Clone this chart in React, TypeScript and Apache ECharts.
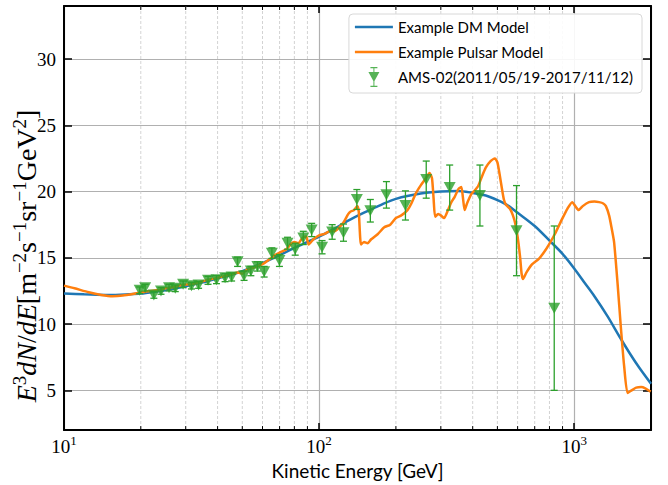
import React, { useEffect, useRef } from "react";
import * as echarts from "echarts";

// ---- Data ----
const dmEnergy = [10, 12, 15, 18, 20, 23, 26, 30, 35, 40, 45, 50, 60, 70, 80, 90, 100, 115, 130, 150, 175, 200, 250, 300, 350, 400, 450, 500, 550, 600, 700, 800, 900, 1000, 1100, 1200, 1350, 1500, 1650, 1800, 2000];
const dmValue = [12.3, 12.25, 12.2, 12.25, 12.3, 12.45, 12.6, 12.85, 13.15, 13.45, 13.7, 14.0, 14.6, 15.2, 15.75, 16.2, 16.6, 17.2, 17.8, 18.4, 19.0, 19.45, 19.85, 20.0, 20.05, 19.9, 19.7, 19.35, 18.95, 18.4, 17.4, 16.3, 15.3, 14.2, 13.1, 12.1, 10.6, 9.1, 7.8, 6.7, 5.5];

const pulsarEnergy = [10, 11, 12.5, 14, 15.5, 17, 19, 21, 23, 25, 27, 29, 31, 33, 36, 39, 42, 45, 48, 50, 52, 55, 58, 61, 64, 67, 70, 74, 78, 80, 83, 86, 89, 91, 95, 100, 105, 110, 115, 120, 125, 130, 133, 137, 141, 143, 146, 150, 155, 160, 170, 180, 190, 200, 210, 222, 230, 240, 251, 262, 271, 277, 281, 285, 293, 300, 309, 320, 330, 340, 352, 361, 366, 372, 380, 395, 408, 420, 432, 450, 470, 489, 500, 510, 520, 530, 540, 560, 575, 587, 600, 614, 622, 630, 650, 683, 725, 760, 796, 840, 895, 940, 982, 1010, 1040, 1080, 1143, 1200, 1252, 1300, 1331, 1370, 1400, 1433, 1480, 1523, 1570, 1618, 1680, 1750, 1830, 1900, 1994];
const pulsarValue = [12.9, 12.7, 12.4, 12.2, 12.1, 12.15, 12.3, 12.45, 12.55, 12.7, 12.8, 12.95, 13.0, 13.1, 13.3, 13.45, 13.6, 13.75, 13.9, 13.8, 14.1, 14.25, 14.4, 14.6, 14.9, 15.2, 15.4, 15.6, 16.1, 16.2, 16.1, 16.5, 16.6, 16.0, 16.4, 16.7, 16.8, 17.0, 17.0, 17.3, 17.7, 18.3, 18.5, 18.6, 18.9, 18.5, 16.0, 16.2, 16.1, 16.4, 16.8, 17.3, 17.5, 18.0, 18.2, 18.6, 19.1, 19.9, 20.5, 21.0, 21.4, 21.0, 19.5, 18.1, 18.3, 18.2, 18.0, 18.6, 19.2, 19.6, 20.2, 20.35, 19.6, 18.6, 19.1, 19.8, 20.1, 20.4, 21.0, 21.8, 22.3, 22.5, 22.2, 21.3, 20.3, 19.4, 19.0, 18.7, 18.2, 17.6, 16.6, 15.0, 13.8, 13.4, 13.9, 14.5, 14.9, 15.4, 16.0, 16.8, 17.9, 18.7, 19.2, 18.9, 18.6, 18.9, 19.2, 19.25, 19.2, 19.1, 18.9, 18.2, 17.3, 16.2, 13.0, 9.8, 6.8, 4.8, 5.0, 5.2, 5.25, 5.15, 4.9];

const amsEnergy = [19.8, 20.8, 22.5, 24.0, 25.8, 27.3, 29.3, 31.6, 33.7, 36.7, 39.6, 42.8, 45.4, 47.9, 50.8, 54.0, 57.3, 60.9, 65.3, 69.9, 75.2, 80.6, 86.7, 93.5, 102.7, 112.5, 124.6, 140.6, 158.8, 183.6, 218, 263, 325, 427, 594, 835];
const amsValue = [12.55, 12.75, 12.2, 12.5, 12.75, 12.7, 13.0, 12.9, 12.95, 13.3, 13.35, 13.5, 13.55, 14.7, 13.65, 14.0, 14.35, 13.95, 15.35, 14.8, 16.1, 15.65, 16.5, 17.1, 15.8, 16.95, 16.9, 19.4, 18.55, 19.75, 18.95, 20.9, 20.3, 19.7, 17.05, 11.2];
const amsError = [0.25, 0.25, 0.25, 0.25, 0.25, 0.25, 0.25, 0.25, 0.25, 0.3, 0.3, 0.3, 0.3, 0.35, 0.35, 0.35, 0.35, 0.4, 0.4, 0.45, 0.45, 0.45, 0.5, 0.5, 0.5, 0.55, 0.65, 0.75, 0.85, 1.0, 1.1, 1.4, 1.7, 2.3, 3.4, 6.2];

const minorTickValues = [20, 30, 40, 50, 60, 70, 80, 90, 200, 300, 400, 500, 600, 700, 800, 900];
const xMin = 10;
const xMax = 2000;
const yMin = 2;
const yMax = 34;

const DM_NAME = "Example DM Model";
const PULSAR_NAME = "Example Pulsar Model";
const AMS_NAME = "AMS-02(2011/05/19-2017/11/12)";

const BLUE = "#1f77b4";
const ORANGE = "#ff7f0e";
const GREEN = "#2ca02c";
const SERIF = "'Liberation Serif', 'DejaVu Serif', serif";
const SANS = "Lato, 'Noto Sans', sans-serif";

const lineIcon = "path://M0,0 M38,20 M0,8.75 L38,8.75 L38,11.25 L0,11.25 Z";
const amsIcon =
  "path://M0,0 M38,20 M13.5,5 L24.5,5 L19,15 Z M18.5,0.5 L19.5,0.5 L19.5,19.5 L18.5,19.5 Z M15.5,0 L22.5,0 L22.5,1.2 L15.5,1.2 Z M15.5,18.8 L22.5,18.8 L22.5,20 L15.5,20 Z";

export default function App() {
  const ref = useRef<HTMLDivElement>(null);

  useEffect(() => {
    if (!ref.current) return;
    const chart = echarts.init(ref.current, undefined, { renderer: "svg" });

    const baseRich = { fontFamily: SERIF, fontSize: 19, lineHeight: 22, verticalAlign: "bottom", color: "#000" };
    const supRich = { fontFamily: SERIF, fontSize: 13, lineHeight: 13, verticalAlign: "top", color: "#000" };
    const nameRich = { fontFamily: SERIF, fontSize: 28, lineHeight: 30, verticalAlign: "bottom", color: "#000" };
    const nameSup = { fontFamily: SERIF, fontSize: 19, lineHeight: 19, verticalAlign: "top", color: "#000" };

    const option: any = {
      animation: false,
      backgroundColor: "#fff",
      grid: { left: 64, right: 17, top: 6, bottom: 51, containLabel: false },
      legend: {
        orient: "vertical",
        right: 26,
        top: 14,
        data: [
          { name: DM_NAME, icon: lineIcon },
          { name: PULSAR_NAME, icon: lineIcon },
          { name: AMS_NAME, icon: amsIcon },
        ],
        itemWidth: 38,
        itemHeight: 20,
        itemGap: 5,
        itemTextGap: 13,
        padding: [3, 9, 6, 6],
        backgroundColor: "rgba(255,255,255,0.9)",
        borderColor: "#d8d8d8",
        borderWidth: 1,
        borderRadius: 4,
        textStyle: { fontFamily: SANS, fontSize: 15, color: "#000" },
      },
      graphic: [
        {
          type: "text",
          x: 25,
          y: 256,
          rotation: Math.PI / 2,
          silent: true,
          style: {
            text: "{it|E}{sup|3}{it|dN}{rm|/}{it|dE}{rm|[m}{sup|−2}{rm|s}{sup|−1}{rm|sr}{sup|−1}{rm|GeV}{sup|2}{rm|]}",
            align: "center",
            verticalAlign: "middle",
            rich: {
              it: { ...nameRich, fontStyle: "italic" },
              rm: nameRich,
              sup: nameSup,
            },
          },
        },
      ],
      xAxis: [
        {
          type: "log",
          logBase: 10,
          min: xMin,
          max: xMax,
          position: "bottom",
          axisLine: { show: true, lineStyle: { color: "#000", width: 2 } },
          axisTick: { show: true, inside: true, length: 7, lineStyle: { color: "#000", width: 1.5 } },
          axisLabel: {
            margin: 4,
            formatter: (v: number) => {
              const l = Math.log10(v);
              if (Math.abs(l - Math.round(l)) < 1e-6) return `{b|10}{s|${Math.round(l)}}`;
              return "";
            },
            rich: { b: baseRich, s: supRich },
          },
          splitLine: { show: true, lineStyle: { color: "#b0b0b0", width: 1.2 } },
          name: "Kinetic Energy [GeV]",
          nameLocation: "middle",
          nameGap: 24,
          nameTextStyle: { fontFamily: SANS, fontSize: 19, color: "#000" },
        },
        {
          type: "log",
          logBase: 10,
          min: xMin,
          max: xMax,
          position: "top",
          axisLine: { show: true, lineStyle: { color: "#000", width: 2 } },
          axisTick: { show: true, inside: true, length: 7, lineStyle: { color: "#000", width: 1.5 } },
          axisLabel: { show: false },
          splitLine: { show: false },
        },
      ],
      yAxis: [
        {
          type: "value",
          min: yMin,
          max: yMax,
          splitNumber: 6,
          position: "left",
          axisLine: { show: true, lineStyle: { color: "#000", width: 2 } },
          axisTick: { show: true, inside: true, length: 8, lineStyle: { color: "#000", width: 1.5 } },
          axisLabel: {
            margin: 8,
            color: "#000",
            fontFamily: SERIF,
            fontSize: 19,
            formatter: (v: number) => (Math.abs(v % 5) < 1e-9 ? String(v) : ""),
          },
          splitLine: { show: true, lineStyle: { color: "#b0b0b0", width: 1.2 } },
        },
        {
          type: "value",
          min: yMin,
          max: yMax,
          splitNumber: 6,
          position: "right",
          axisLine: { show: true, lineStyle: { color: "#000", width: 2 } },
          axisTick: { show: true, inside: true, length: 8, lineStyle: { color: "#000", width: 1.5 } },
          axisLabel: { show: false },
          splitLine: { show: false },
        },
      ],
      series: [
        {
          name: "minor grid",
          type: "custom",
          xAxisIndex: 0,
          yAxisIndex: 0,
          silent: true,
          z: 1,
          encode: { x: 0, y: 1 },
          data: minorTickValues.map((v) => [v, yMin]),
          renderItem: (params: any, api: any) => {
            const x = api.coord([api.value(0), yMin])[0];
            const cs = params.coordSys;
            const top = cs.y;
            const bottom = cs.y + cs.height;
            return {
              type: "group",
              children: [
                { type: "line", shape: { x1: x, y1: top, x2: x, y2: bottom }, style: { stroke: "#c8c8c8", lineWidth: 0.8, lineDash: [3, 2] } },
                { type: "line", shape: { x1: x, y1: bottom, x2: x, y2: bottom - 4 }, style: { stroke: "#000", lineWidth: 1 } },
                { type: "line", shape: { x1: x, y1: top, x2: x, y2: top + 4 }, style: { stroke: "#000", lineWidth: 1 } },
              ],
            };
          },
        },
        {
          name: DM_NAME,
          type: "line",
          xAxisIndex: 0,
          yAxisIndex: 0,
          z: 3,
          color: BLUE,
          symbol: "none",
          smooth: 0.3,
          lineStyle: { color: BLUE, width: 2.5 },
          data: dmEnergy.map((e, i) => [e, dmValue[i]]),
        },
        {
          name: PULSAR_NAME,
          type: "line",
          xAxisIndex: 0,
          yAxisIndex: 0,
          z: 4,
          color: ORANGE,
          symbol: "none",
          smooth: 0.2,
          lineStyle: { color: ORANGE, width: 2.5 },
          data: pulsarEnergy.map((e, i) => [e, pulsarValue[i]]),
        },
        {
          name: "AMS-02 error bars",
          type: "custom",
          xAxisIndex: 0,
          yAxisIndex: 0,
          z: 5,
          silent: true,
          encode: { x: 0, y: [1, 2] },
          data: amsEnergy.map((e, i) => [e, amsValue[i] - amsError[i], amsValue[i] + amsError[i]]),
          renderItem: (params: any, api: any) => {
            const e = api.value(0);
            const p1 = api.coord([e, api.value(1)]);
            const p2 = api.coord([e, api.value(2)]);
            const st = { stroke: GREEN, lineWidth: 1.3 };
            return {
              type: "group",
              children: [
                { type: "line", shape: { x1: p1[0], y1: p1[1], x2: p2[0], y2: p2[1] }, style: st },
                { type: "line", shape: { x1: p1[0] - 3.5, y1: p1[1], x2: p1[0] + 3.5, y2: p1[1] }, style: st },
                { type: "line", shape: { x1: p2[0] - 3.5, y1: p2[1], x2: p2[0] + 3.5, y2: p2[1] }, style: st },
              ],
            };
          },
        },
        {
          name: AMS_NAME,
          type: "scatter",
          xAxisIndex: 0,
          yAxisIndex: 0,
          z: 6,
          color: GREEN,
          symbol: "triangle",
          symbolRotate: 180,
          symbolSize: [12, 11],
          itemStyle: { color: GREEN },
          data: amsEnergy.map((e, i) => [e, amsValue[i]]),
        },
      ],
    };

    chart.setOption(option);
    return () => {
      chart.dispose();
    };
  }, []);

  return (
    <div
      ref={ref}
      style={{ position: "absolute", left: 0, top: 0, width: 668, height: 485, background: "#fff" }}
    />
  );
}
